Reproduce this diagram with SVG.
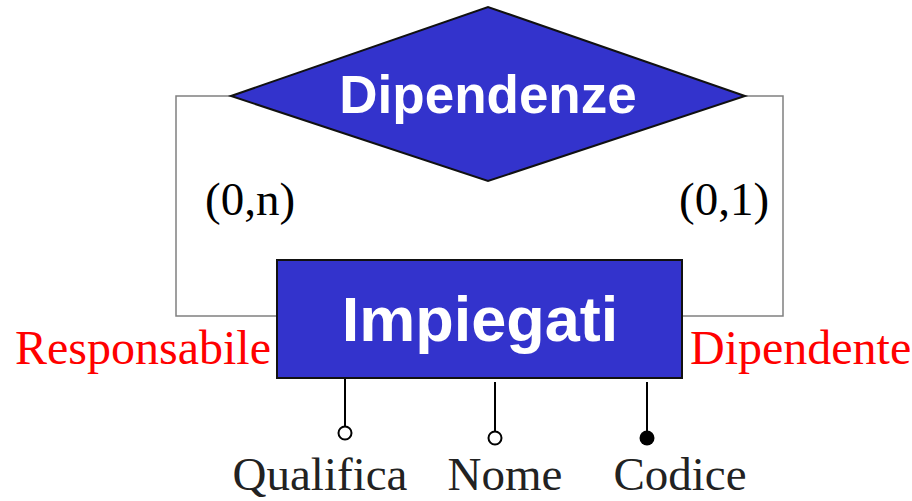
<svg xmlns="http://www.w3.org/2000/svg" width="912" height="501" viewBox="0 0 912 501">
<style>
.ent{fill:#3333cc;stroke:#111;stroke-width:2}
.title{font-family:"Liberation Sans",Arial,sans-serif;font-weight:bold;fill:#fff;text-anchor:middle}
.conn{fill:none;stroke:#808080;stroke-width:1.5}
.attr{stroke:#000;stroke-width:2}
.card{font-family:"Liberation Serif","Times New Roman",serif;font-size:47px;fill:#000}
.role{font-family:"Liberation Serif","Times New Roman",serif;font-size:48px;fill:#ff0000}
.alab{font-family:"Liberation Serif","Times New Roman",serif;font-size:47px;fill:#222;text-anchor:middle}
</style>
<rect width="912" height="501" fill="#fff"/>
<g id="connectors">
<polyline class="conn" points="231,96 176,96 176,316 277,316"/>
<polyline class="conn" points="745,96 783,96 783,316 682,316"/>
<line class="attr" x1="345" y1="378" x2="345" y2="426"/>
<line class="attr" x1="495" y1="382" x2="495" y2="431"/>
<line class="attr" x1="647" y1="382" x2="647" y2="431"/>
</g>
<g id="dipendenze">
<polygon class="ent" points="231,96 488,7 745,96 488,181"/>
<text class="title" x="488" y="113" font-size="53">Dipendenze</text>
</g>
<g id="impiegati">
<rect class="ent" x="277" y="260" width="405" height="118"/>
<text class="title" x="480" y="341" font-size="63">Impiegati</text>
</g>
<g id="labels">
<text class="card" x="205" y="215">(0,n)</text>
<text class="card" x="679" y="215">(0,1)</text>
<text class="role" x="15" y="364">Responsabile</text>
<text class="role" x="690" y="364">Dipendente</text>
</g>
<g id="attr-qualifica">
<circle cx="345" cy="433" r="6.5" fill="#fff" stroke="#000" stroke-width="2"/>
<text class="alab" x="320" y="490">Qualifica</text>
</g>
<g id="attr-nome">
<circle cx="495" cy="438" r="6.5" fill="#fff" stroke="#000" stroke-width="2"/>
<text class="alab" x="505" y="490">Nome</text>
</g>
<g id="attr-codice">
<circle cx="647" cy="438" r="7.5" fill="#000"/>
<text class="alab" x="680" y="490">Codice</text>
</g>
</svg>
